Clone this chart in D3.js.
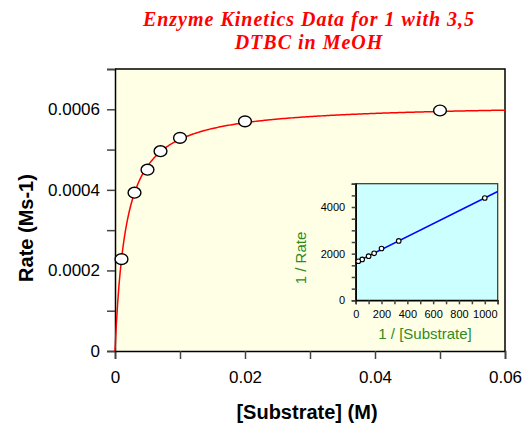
<!DOCTYPE html>
<html>
<head>
<meta charset="utf-8">
<script src="https://cdn.jsdelivr.net/npm/d3@7"></script>
<style>
  body { margin: 0; background: #fff; }
  svg { display: block; font-family: "Liberation Sans", Arial, sans-serif; }
  .tick line { stroke: #444; stroke-width: 1.5; }
  .domain { stroke: #000; stroke-width: 1.5; }
</style>
</head>
<body>
<div id="chart"></div>
<script>
'use strict'
// measured data: substrate concentration (M) and initial rate (M s-1)
const substrate = [0.001, 0.003, 0.005, 0.007, 0.01, 0.02, 0.05]
const rate = [0.000228, 0.000393, 0.000450, 0.000496, 0.000529, 0.000570, 0.000597]
const xTicks = [0, 0.01, 0.02, 0.03, 0.04, 0.05, 0.06]
const yTicks = [0, 0.0001, 0.0002, 0.0003, 0.0004, 0.0005, 0.0006, 0.0007]
const insetXTicks = d3.range(0, 1101, 100)
const insetYTicks = d3.range(0, 5001, 500)
const titleLines = ["Enzyme Kinetics Data for 1 with 3,5", "DTBC in MeOH"]

const width = 523, height = 425
const svg = d3.select("#chart").append("svg")
  .attr("width", width)
  .attr("height", height)

// Lineweaver-Burk fit (least squares on reciprocals)
const inv = substrate.map((s, i) => ({x: 1 / s, y: 1 / rate[i]}))
const mx = d3.mean(inv, d => d.x), my = d3.mean(inv, d => d.y)
const slope = d3.sum(inv, d => (d.x - mx) * (d.y - my)) / d3.sum(inv, d => (d.x - mx) ** 2)
const intercept = my - slope * mx
const vmax = 1 / intercept, km = slope * vmax

// main plot
const x = d3.scaleLinear().domain([0, 0.06]).range([115, 505])
const y = d3.scaleLinear().domain([0, 0.0007]).range([351, 69])

svg.append("rect")
  .attr("x", x(0)).attr("y", y(0.0007))
  .attr("width", x(0.06) - x(0)).attr("height", y(0) - y(0.0007))
  .attr("fill", "#ffffe6")

// right and top frame
svg.append("path")
  .attr("d", `M${x(0)},${y(0.0007)}H${x(0.06)}V${y(0)}`)
  .attr("fill", "none").attr("stroke", "#000").attr("stroke-width", 1.5)

svg.append("g")
  .attr("transform", `translate(0,${y(0)})`)
  .call(d3.axisBottom(x).tickValues(xTicks).tickSize(8).tickPadding(12)
    .tickFormat(d => Math.round(d * 100) % 2 === 0 ? (d === 0 ? "0" : d3.format(".2f")(d)) : ""))
  .call(g => g.selectAll("text").attr("font-size", 17).attr("fill", "#000").attr("font-family", null))

svg.append("g")
  .attr("transform", `translate(${x(0)},0)`)
  .call(d3.axisLeft(y).tickValues(yTicks).tickSize(8).tickPadding(7)
    .tickFormat(d => {
      const k = Math.round(d * 10000)
      if (k % 2 !== 0) return ""
      return k === 0 ? "0" : d3.format(".4f")(d)
    }))
  .call(g => g.selectAll("text").attr("font-size", 17).attr("fill", "#000").attr("font-family", null))

// fitted Michaelis-Menten curve
const curveS = d3.range(0, 0.0601, 0.0002)
svg.append("path")
  .datum(curveS)
  .attr("d", d3.line().x(s => x(s)).y(s => y(vmax * s / (km + s))))
  .attr("fill", "none").attr("stroke", "#ff0000").attr("stroke-width", 1.5)

svg.append("g").selectAll("ellipse")
  .data(substrate)
  .join("ellipse")
    .attr("cx", d => x(d))
    .attr("cy", (d, i) => y(rate[i]))
    .attr("rx", 6.4).attr("ry", 5.4)
    .attr("fill", "#fff").attr("stroke", "#000").attr("stroke-width", 1.4)

// axis titles
svg.append("text")
  .attr("x", 307).attr("y", 419)
  .attr("text-anchor", "middle")
  .attr("font-size", 20).attr("font-weight", "bold")
  .text("[Substrate] (M)")

svg.append("text")
  .attr("transform", `translate(33,228) rotate(-90)`)
  .attr("text-anchor", "middle")
  .attr("font-size", 20).attr("font-weight", "bold")
  .text("Rate (Ms-1)")

// title
svg.append("text")
  .attr("text-anchor", "middle")
  .attr("font-family", "'Liberation Serif', 'Times New Roman', serif")
  .attr("font-style", "italic").attr("font-weight", "bold")
  .attr("font-size", 20).attr("fill", "#ff0000")
  .attr("letter-spacing", 1)
  .selectAll("tspan")
  .data(titleLines)
  .join("tspan")
    .attr("x", 309)
    .attr("y", (d, i) => 26 + i * 23)
    .text(d => d)

// inset: double reciprocal plot
const xi = d3.scaleLinear().domain([0, 1100]).range([355.7, 497.7])
const yi = d3.scaleLinear().domain([0, 5000]).range([300.3, 183.7])

svg.append("rect")
  .attr("x", xi(0)).attr("y", yi(5000))
  .attr("width", xi(1100) - xi(0)).attr("height", yi(0) - yi(5000))
  .attr("fill", "#ccffff").attr("stroke", "#333").attr("stroke-width", 1.2)

svg.append("g")
  .attr("transform", `translate(0,${yi(0)})`)
  .call(d3.axisBottom(xi).tickValues(insetXTicks).tickSize(4).tickPadding(5.5)
    .tickFormat(d => d % 200 === 0 ? d : ""))
  .call(g => g.selectAll("text").attr("font-size", 11).attr("fill", "#000").attr("font-family", null))
  .call(g => g.selectAll(".tick line").attr("stroke-width", 1.2))

svg.append("g")
  .attr("transform", `translate(${xi(0)},0)`)
  .call(d3.axisLeft(yi).tickValues(insetYTicks).tickSize(4).tickPadding(6.5)
    .tickFormat(d => d % 2000 === 0 ? d : ""))
  .call(g => g.selectAll("text").attr("font-size", 11).attr("fill", "#000").attr("font-family", null))
  .call(g => g.selectAll(".tick line").attr("stroke-width", 1.2))

svg.append("line")
  .attr("x1", xi(0)).attr("y1", yi(intercept))
  .attr("x2", xi(1100)).attr("y2", yi(intercept + slope * 1100))
  .attr("stroke", "#0000ff").attr("stroke-width", 1.5)

svg.append("g").selectAll("circle")
  .data(inv)
  .join("circle")
    .attr("cx", d => xi(d.x))
    .attr("cy", d => yi(d.y))
    .attr("r", 2.3)
    .attr("fill", "#fff").attr("stroke", "#000").attr("stroke-width", 1.1)

svg.append("text")
  .attr("x", 425).attr("y", 339)
  .attr("text-anchor", "middle")
  .attr("font-size", 15).attr("fill", "#2e8b22")
  .text("1 / [Substrate]")

svg.append("text")
  .attr("transform", `translate(306,258) rotate(-90)`)
  .attr("text-anchor", "middle")
  .attr("font-size", 15).attr("fill", "#2e8b22")
  .text("1 / Rate")
</script>
</body>
</html>
